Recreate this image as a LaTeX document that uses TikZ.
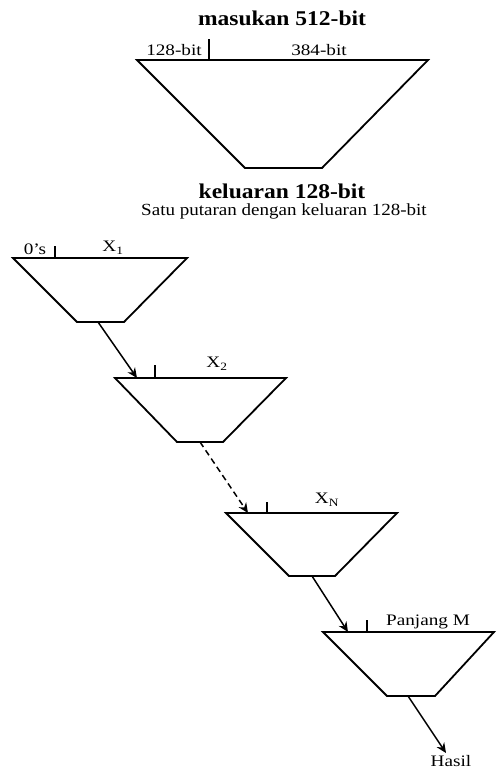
\documentclass[tikz,border=0pt]{standalone}
\usepackage{fontspec}
\setmainfont{Liberation Serif}
\usetikzlibrary{arrows.meta}
\tikzset{
  trap/.style={line width=1.8pt, line join=miter},
  tick/.style={line width=1.3pt},
  conn/.style={line width=1.5pt, -{Stealth[length=10pt,width=9pt]}},
  lbl/.style={inner sep=0pt, font=\fontsize{16}{18}\selectfont, xscale=1.2},
  title/.style={inner sep=0pt, font=\fontsize{21}{24}\selectfont\bfseries, xscale=1.12},
  sub/.style={inner sep=0pt, font=\fontsize{17}{20}\selectfont, xscale=1.12}
}
\begin{document}
\begin{tikzpicture}[x=1pt,y=-1pt]
\useasboundingbox (0,0) rectangle (497,771);
% top trapezoid
\draw[trap] (137,60) -- (428,60) -- (322,168) -- (245,168) -- cycle;
\draw[tick] (209,60) -- (209,39);
\node[title] (in) at (282,18) {masukan 512-bit};
\node[lbl] (l128) at (174,50) {128-bit};
\node[lbl] (l384) at (319,50) {384-bit};
\node[title] (out) at (282,191) {keluaran 128-bit};
\node[sub] (cap) at (284,211) {Satu putaran dengan keluaran 128-bit};
% stage 1
\draw[trap] (13,258) -- (187,258) -- (124,322) -- (77,322) -- cycle;
\draw[tick] (55,258) -- (55,246);
\node[lbl] (zeros) at (35,249) {0’s};
\node[lbl] (x1) at (113,248) {X\textsubscript{1}};
\coordinate (b1) at (98,322);
% stage 2
\draw[trap] (115,378) -- (286,378) -- (223,442) -- (177,442) -- cycle;
\draw[tick] (155,378) -- (155,365);
\node[lbl] (x2) at (217,364) {X\textsubscript{2}};
\coordinate (a2) at (137,378);
\coordinate (b2) at (200,442);
% stage 3
\draw[trap] (226,513) -- (397,513) -- (335,576) -- (289,576) -- cycle;
\draw[tick] (267,513) -- (267,502);
\node[lbl] (xn) at (327,500) {X\textsubscript{N}};
\coordinate (a3) at (248,513);
\coordinate (b3) at (312,576);
% stage 4
\draw[trap] (323,632) -- (494,632) -- (435,696) -- (387,696) -- cycle;
\draw[tick] (367,632) -- (367,620);
\node[lbl] (len) at (428,622) {Panjang M};
\coordinate (a4) at (348,632);
\coordinate (b4) at (408,696);
\coordinate (res) at (446,753);
\node[lbl] (hasil) at (451,761) {Hasil};
% connectors
\draw[conn] (b1) -- (a2);
\draw[conn, dashed, dash pattern=on 6pt off 4pt] (b2) -- (a3);
\draw[conn] (b3) -- (a4);
\draw[conn] (b4) -- (res);
\end{tikzpicture}
\end{document}
